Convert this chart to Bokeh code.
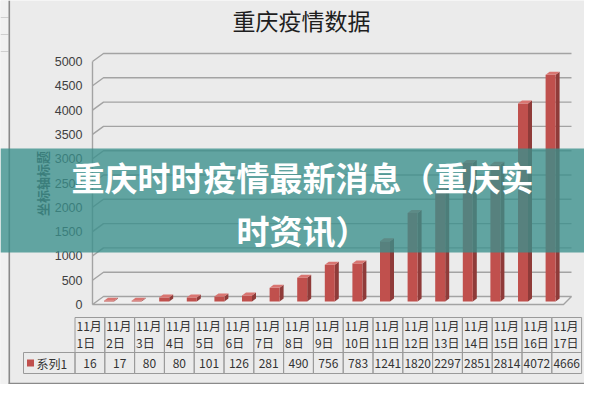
from bokeh.plotting import figure
from bokeh.models import Range1d
from bokeh.core.properties import value
from bokeh.embed import file_html
from bokeh.resources import INLINE
import math

# ---------------- data ----------------
chart_title = "重庆疫情数据"
axis_title = "坐标轴标题"
series_name = "系列1"
dates = ["11月1日", "11月2日", "11月3日", "11月4日", "11月5日", "11月6日",
         "11月7日", "11月8日", "11月9日", "11月10日", "11月11日", "11月12日",
         "11月13日", "11月14日", "11月15日", "11月16日", "11月17日"]
cases = [16, 17, 80, 80, 101, 126, 281, 490, 756, 783, 1241, 1820, 2297,
         2851, 2814, 4072, 4666]
y_ticks = [0, 500, 1000, 1500, 2000, 2500, 3000, 3500, 4000, 4500, 5000]
banner_text = "重庆时时疫情最新消息（重庆实\n时资讯）"

# ---------------- layout (pixels -> data units) ----------------
BAR0 = 108.5      # px x of first bar centre
STEP = 27.6       # px between bars
FLOOR = 304.0     # px y of value 0 (front)
PPU = 0.0486      # px per value unit


def X(px):
    return (px - BAR0) / STEP


def Y(py):
    return (FLOOR - py) / PPU


def DXu(px):
    return px / STEP


def DYu(py):
    return py / PPU


W, H = 584, 384
p = figure(width=W, height=H, output_backend="svg", toolbar_location=None,
           x_range=Range1d(X(0), X(W)), y_range=Range1d(Y(H), Y(0)),
           min_border=0, min_border_left=0, min_border_right=0,
           min_border_top=0, min_border_bottom=0)
p.axis.visible = False
p.grid.visible = False
p.outline_line_color = None
p.background_fill_color = "#ebebeb"
p.border_fill_color = "#ebebeb"

# sheet strip left of the chart box
p.quad(left=[X(0)], right=[X(8)], bottom=[Y(H)], top=[Y(0)],
       fill_color="#f1f1f1", line_color=None)
p.multi_line([[X(0), X(8)]] * 3, [[Y(17), Y(17)], [Y(34), Y(34)], [Y(51), Y(51)]],
             line_color="#cfcfcf", line_width=1)

# ---------------- 3D walls ----------------
wdx, wdy = DXu(11), DYu(8)
x_left = X(92)
x_right_back = X(571)
gx, gy = [], []
for t in y_ticks[1:]:
    gx.append([x_left, x_left + wdx, x_right_back])
    gy.append([t, t + wdy, t + wdy])
p.multi_line(gx, gy, line_color="#a3a3a3", line_width=1.4)
p.line([x_left, x_left], [y_ticks[0], y_ticks[-1]], line_color="#a3a3a3", line_width=1.4)
p.patch([x_left, X(563), X(571), x_left + wdx], [0, 0, wdy, wdy],
        fill_color="#efefef", line_color="#a3a3a3", line_width=1.4)

# ---------------- bars ----------------
hw = DXu(5)
sdx, sdy = DXu(4), DYu(3)
base = DYu(3)
fx, fy, sx, sy, tx, ty = [], [], [], [], [], []
for i, v in enumerate(cases):
    l, r = i - hw, i + hw
    b, t = base, base + v
    fx.append([l, r, r, l]); fy.append([b, b, t, t])
    sx.append([r, r + sdx, r + sdx, r]); sy.append([b, b + sdy, t + sdy, t])
    tx.append([l, r, r + sdx, l + sdx]); ty.append([t, t, t + sdy, t + sdy])
p.patches(sx, sy, fill_color="#8f3b39", line_color=None)
p.patches(fx, fy, fill_color="#c0504d", line_color=None)
p.patches(tx, ty, fill_color="#d97571", line_color=None)

# ---------------- y labels & titles ----------------
p.text(x=[X(82)] * len(y_ticks), y=y_ticks, text=[str(t) for t in y_ticks],
       text_align="right", text_baseline="middle", text_font_size="12.5px",
       text_font=value("Liberation Sans"), text_color="#3f3f3f")
p.text(x=[X(42)], y=[Y(183)], text=[axis_title], angle=math.pi / 2,
       text_align="center", text_baseline="middle", text_font_size="13px",
       text_font=value("Noto Sans CJK SC"), text_font_style="bold",
       text_color="#404040")
p.text(x=[X(301)], y=[Y(19)], text=[chart_title], text_align="center",
       text_baseline="middle", text_font_size="23px",
       text_font=value("Noto Sans CJK SC"), text_color="#1e1e1e")

# ---------------- data table ----------------
COL0, COLW = 74.5, 29.8
T_TOP, T_MID, T_BOT = 317, 352, 373
n = len(dates)
lefts = [X(COL0 + COLW * j) for j in range(n)]
rights = [X(COL0 + COLW * (j + 1)) for j in range(n)]
p.quad(left=lefts, right=rights, top=[Y(T_TOP)] * n, bottom=[Y(T_MID)] * n,
       fill_color=None, line_color="#9a9a9a", line_width=1)
p.quad(left=lefts, right=rights, top=[Y(T_MID)] * n, bottom=[Y(T_BOT)] * n,
       fill_color=None, line_color="#9a9a9a", line_width=1)
p.quad(left=[X(23)], right=[X(COL0)], top=[Y(T_MID)], bottom=[Y(T_BOT)],
       fill_color=None, line_color="#9a9a9a", line_width=1)

months = [d.split("月")[0] + "月" for d in dates]
days = [d.split("月")[1] for d in dates]
tl = [l + DXu(1.5) for l in lefts]
p.text(x=tl, y=[Y(325)] * n, text=months, text_align="left",
       text_baseline="middle", text_font_size="12px",
       text_font=value("Noto Sans CJK SC"), text_color="#333333")
p.text(x=tl, y=[Y(342)] * n, text=days, text_align="left",
       text_baseline="middle", text_font_size="12px",
       text_font=value("Noto Sans CJK SC"), text_color="#333333")
centers = [(a + b) / 2 for a, b in zip(lefts, rights)]
p.text(x=centers, y=[Y(362.5)] * n, text=[str(c) for c in cases],
       text_align="center", text_baseline="middle", text_font_size="12px",
       text_font=value("Noto Sans CJK SC"), text_color="#333333")
p.scatter(x=[X(30)], y=[Y(362.5)], marker="square", size=7,
          fill_color="#c0504d", line_color=None)
p.text(x=[X(36)], y=[Y(362.5)], text=[series_name], text_align="left",
       text_baseline="middle", text_font_size="12px",
       text_font=value("Noto Sans CJK SC"), text_color="#333333")

# chart box border
p.line([X(8.8), X(8.8)], [Y(0), Y(383)], line_color="#8a8a8a", line_width=1.6)
p.line([X(8), X(W)], [Y(383), Y(383)], line_color="#8a8a8a", line_width=1.6)

# ---------------- banner overlay ----------------
p.quad(left=[X(0)], right=[X(W)], top=[Y(148)], bottom=[Y(252)],
       fill_color="#3a8f8c", fill_alpha=0.78, line_color=None)
p.text(x=[X(302)], y=[Y(203)], text=[banner_text], text_align="center",
       text_baseline="middle", text_font_size="33px", text_line_height=1.12,
       text_font=value("Noto Sans CJK SC"), text_font_style="bold",
       text_color="white")

open("out.html", "w").write(file_html(p, INLINE))
